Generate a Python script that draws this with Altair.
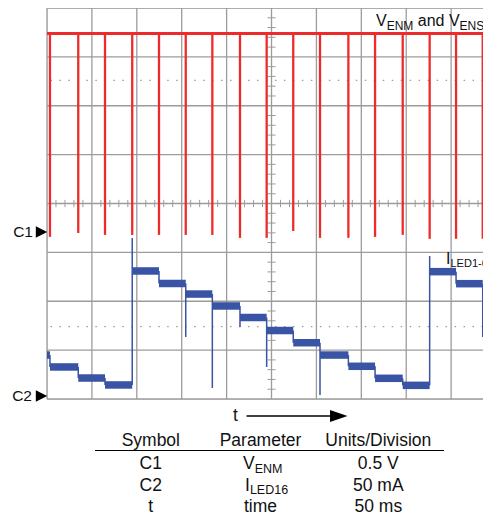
import altair as alt
import pandas as pd

FONT = "Liberation Sans"
RED = "#ee2b2b"
BLUE = "#3953a5"
GRID = "#9c9c9c"
INK = "#111111"

# ---------------- values ----------------
# time base 50 ms/div, C1 = 0.5 V/div, C2 = 50 mA/div
pulse_t_ms = [3.3, 34.8, 64.6, 94.9, 124.7, 154.5, 184.1, 214.9, 244.6,
              274.2, 304.0, 335.6, 365.3, 396.1, 426.1, 455.5, 485.2]
pulse_low_v = [-0.05, -0.01, -0.03, -0.03, -0.03, -0.03, -0.03, -0.06, -0.06,
               0.01, -0.06, -0.06, -0.05, -0.03, -0.07, -0.07, -0.07]
venm_high_v = 2.03
t_end_ms = 485.5

# LED current level of each step (mA), one before the first pulse + one after each pulse
step_ma = [41.9, 29.7, 18.4, 11.3, 127.9, 115.1, 104.3, 92.1, 80.3,
           67.0, 54.5, 41.9, 30.4, 18.1, 10.9, 127.2, 114.9, 102.6]
# overshoot / undershoot seen at each step change (mA), None where nothing shows
spike_ma = [None, None, None, 161.6, None, 60.4, 8.2, 70.6, 29.7,
            None, 1.0, None, None, None, 143.2, None, 60.4]

headers = ["Symbol", "Parameter", "Units/Division"]
symbols = ["C1", "C2", "t"]
param_main = ["V", "I", "time"]
param_sub = ["ENM", "LED16", ""]
units = ["0.5 V", "50 mA", "50 ms"]

# ---------------- scales ----------------
X = alt.Scale(domain=[0, t_end_ms], nice=False, zero=False)
DIV = alt.Scale(domain=[0, 8], nice=False, zero=False)
C1S = alt.Scale(domain=[-1.7085, 2.2915], nice=False, zero=False)
C2S = alt.Scale(domain=[-3.07, 396.93], nice=False, zero=False)

# ---------------- tables ----------------
red_df = pd.DataFrame({"t": pulse_t_ms, "low": pulse_low_v,
                       "high": [venm_high_v] * len(pulse_t_ms)})
band_df = pd.DataFrame({"t0": [0.0] + pulse_t_ms, "t1": pulse_t_ms + [t_end_ms],
                        "ma": step_ma})
trans = []
for k, t in enumerate(pulse_t_ms):
    vals = [step_ma[k], step_ma[k + 1]]
    if spike_ma[k] is not None:
        vals.append(spike_ma[k])
    trans.append({"t": t, "hi": max(vals), "lo": min(vals)})
trans_df = pd.DataFrame(trans)

# ---------------- graticule ----------------
vgrid = alt.Chart(pd.DataFrame({"t": list(range(0, 451, 50))})).mark_rule(
    color=GRID, strokeWidth=1.3).encode(x=alt.X("t:Q", scale=X, axis=None))
hgrid = alt.Chart(pd.DataFrame({"d": list(range(0, 9))})).mark_rule(
    color=GRID, strokeWidth=1.3).encode(y=alt.Y("d:Q", scale=DIV, axis=None))

ht = [t for t in range(0, 486, 10) if t % 50]
hminor = alt.Chart(pd.DataFrame({"t": ht, "a": [3.925] * len(ht), "b": [4.075] * len(ht)})).mark_rule(
    color=GRID, strokeWidth=1).encode(
    x=alt.X("t:Q", scale=X, axis=None),
    y=alt.Y("a:Q", scale=DIV, axis=None), y2="b:Q")
vd = [k * 0.2 for k in range(41) if k % 5]
vminor = alt.Chart(pd.DataFrame({"d": vd, "a": [245.5] * len(vd), "b": [254.5] * len(vd)})).mark_rule(
    color=GRID, strokeWidth=1).encode(
    y=alt.Y("d:Q", scale=DIV, axis=None),
    x=alt.X("a:Q", scale=X, axis=None), x2="b:Q")
dotted = alt.Chart(pd.DataFrame({"d": [6.52, 1.48]})).mark_rule(
    color=GRID, strokeWidth=1.4, strokeDash=[1.5, 7.48]).encode(
    y=alt.Y("d:Q", scale=DIV, axis=None))

# ---------------- traces ----------------
red_top = alt.Chart(alt.Data(values=[{"v": venm_high_v}])).mark_rule(
    color=RED, strokeWidth=3).encode(y=alt.Y("v:Q", scale=C1S, axis=None))
red_pulses = alt.Chart(red_df).mark_rule(color=RED, strokeWidth=2.3, strokeCap="butt").encode(
    x=alt.X("t:Q", scale=X, axis=None),
    y=alt.Y("high:Q", scale=C1S, axis=None), y2="low:Q")

blue_bands = alt.Chart(band_df).mark_rule(color=BLUE, strokeWidth=7.5, strokeCap="butt").encode(
    x=alt.X("t0:Q", scale=X, axis=None), x2="t1:Q",
    y=alt.Y("ma:Q", scale=C2S, axis=None))
blue_trans = alt.Chart(trans_df).mark_rule(color=BLUE, strokeWidth=1.5).encode(
    x=alt.X("t:Q", scale=X, axis=None),
    y=alt.Y("hi:Q", scale=C2S, axis=None), y2="lo:Q")

# ---------------- channel markers ----------------
TRI = "M-1,-1L1,0L-1,1Z"
c1_tri = alt.Chart(alt.Data(values=[{"v": 0}])).mark_point(
    shape=TRI, size=130, filled=True, color="black", opacity=1).encode(
    x=alt.value(-5.5), y=alt.Y("v:Q", scale=C1S, axis=None))
c1_lab = alt.Chart(alt.Data(values=[{"v": 0, "s": "C1"}])).mark_text(
    align="right", baseline="middle", fontSize=15.5, font=FONT, color=INK).encode(
    x=alt.value(-14), y=alt.Y("v:Q", scale=C1S, axis=None), text="s:N")
c2_tri = alt.Chart(alt.Data(values=[{"v": 0}])).mark_point(
    shape=TRI, size=130, filled=True, color="black", opacity=1).encode(
    x=alt.value(-5.5), y=alt.Y("v:Q", scale=C2S, axis=None))
c2_lab = alt.Chart(alt.Data(values=[{"v": 0, "s": "C2"}])).mark_text(
    align="right", baseline="middle", fontSize=15.5, font=FONT, color=INK).encode(
    x=alt.value(-15), y=alt.Y("v:Q", scale=C2S, axis=None), text="s:N")


def txt(s, x, y, size=17.5, align="left", clip=False):
    return alt.Chart(alt.Data(values=[{"s": s}])).mark_text(
        align=align, baseline="alphabetic", fontSize=size, font=FONT, color=INK,
        clip=clip).encode(x=alt.value(x), y=alt.value(y), text="s:N")


labels = [
    txt("V", 329, 18, 16, clip=True), txt("ENM", 339.7, 22, 12, clip=True),
    txt("and V", 370.8, 18, 16, clip=True), txt("ENS", 412.6, 22, 12, clip=True),
    txt("I", 399, 256, 16, clip=True), txt("LED1-6", 403.5, 259, 11, clip=True),
    txt("t", 188.5, 412.5, 17.5, "center"),
]

arrow_line = alt.Chart(alt.Data(values=[{}])).mark_rule(color="black", strokeWidth=1.3).encode(
    x=alt.value(199.5), x2=alt.value(285), y=alt.value(408))
arrow_head = alt.Chart(alt.Data(values=[{}])).mark_point(
    shape="M-1,-0.69L1,0L-1,0.69Z", size=306, filled=True, color="black", opacity=1).encode(
    x=alt.value(291.75), y=alt.value(408))

# ---------------- table ----------------
col_x = [103.8, 213.5, 331.3]
row_y = [461, 482.5, 503.5]
table = [txt(h, cx, 437.5, 17.5, "center") for h, cx in zip(headers, col_x)]
table.append(alt.Chart(alt.Data(values=[{}])).mark_rule(color="black", strokeWidth=1.2).encode(
    x=alt.value(48), x2=alt.value(397), y=alt.value(442.5)))
main_x = [196, 198, None]
sub_x = [207.7, 202.9, None]
for i in range(3):
    table.append(txt(symbols[i], col_x[0], row_y[i], 17.5, "center"))
    table.append(txt(units[i], col_x[2], row_y[i], 17.5, "center"))
    if param_sub[i]:
        table.append(txt(param_main[i], main_x[i], row_y[i], 17.5))
        table.append(txt(param_sub[i], sub_x[i], row_y[i] + 3.5, 12.5))
    else:
        table.append(txt(param_main[i], col_x[1], row_y[i], 17.5, "center"))

chart = alt.layer(
    vgrid, hgrid, hminor, vminor, dotted,
    red_top, red_pulses, blue_bands, blue_trans,
    c1_tri, c1_lab, c2_tri, c2_lab,
    *labels, arrow_line, arrow_head, *table,
).resolve_scale(y="independent").properties(
    width=436, height=391,
    autosize=alt.AutoSizeParams(type="none"),
    padding={"left": 39, "top": 0, "right": 0, "bottom": 115},
).configure_view(stroke=None).configure(background="white")

chart.save("out.html", embed_options={"renderer": "svg", "actions": False})
